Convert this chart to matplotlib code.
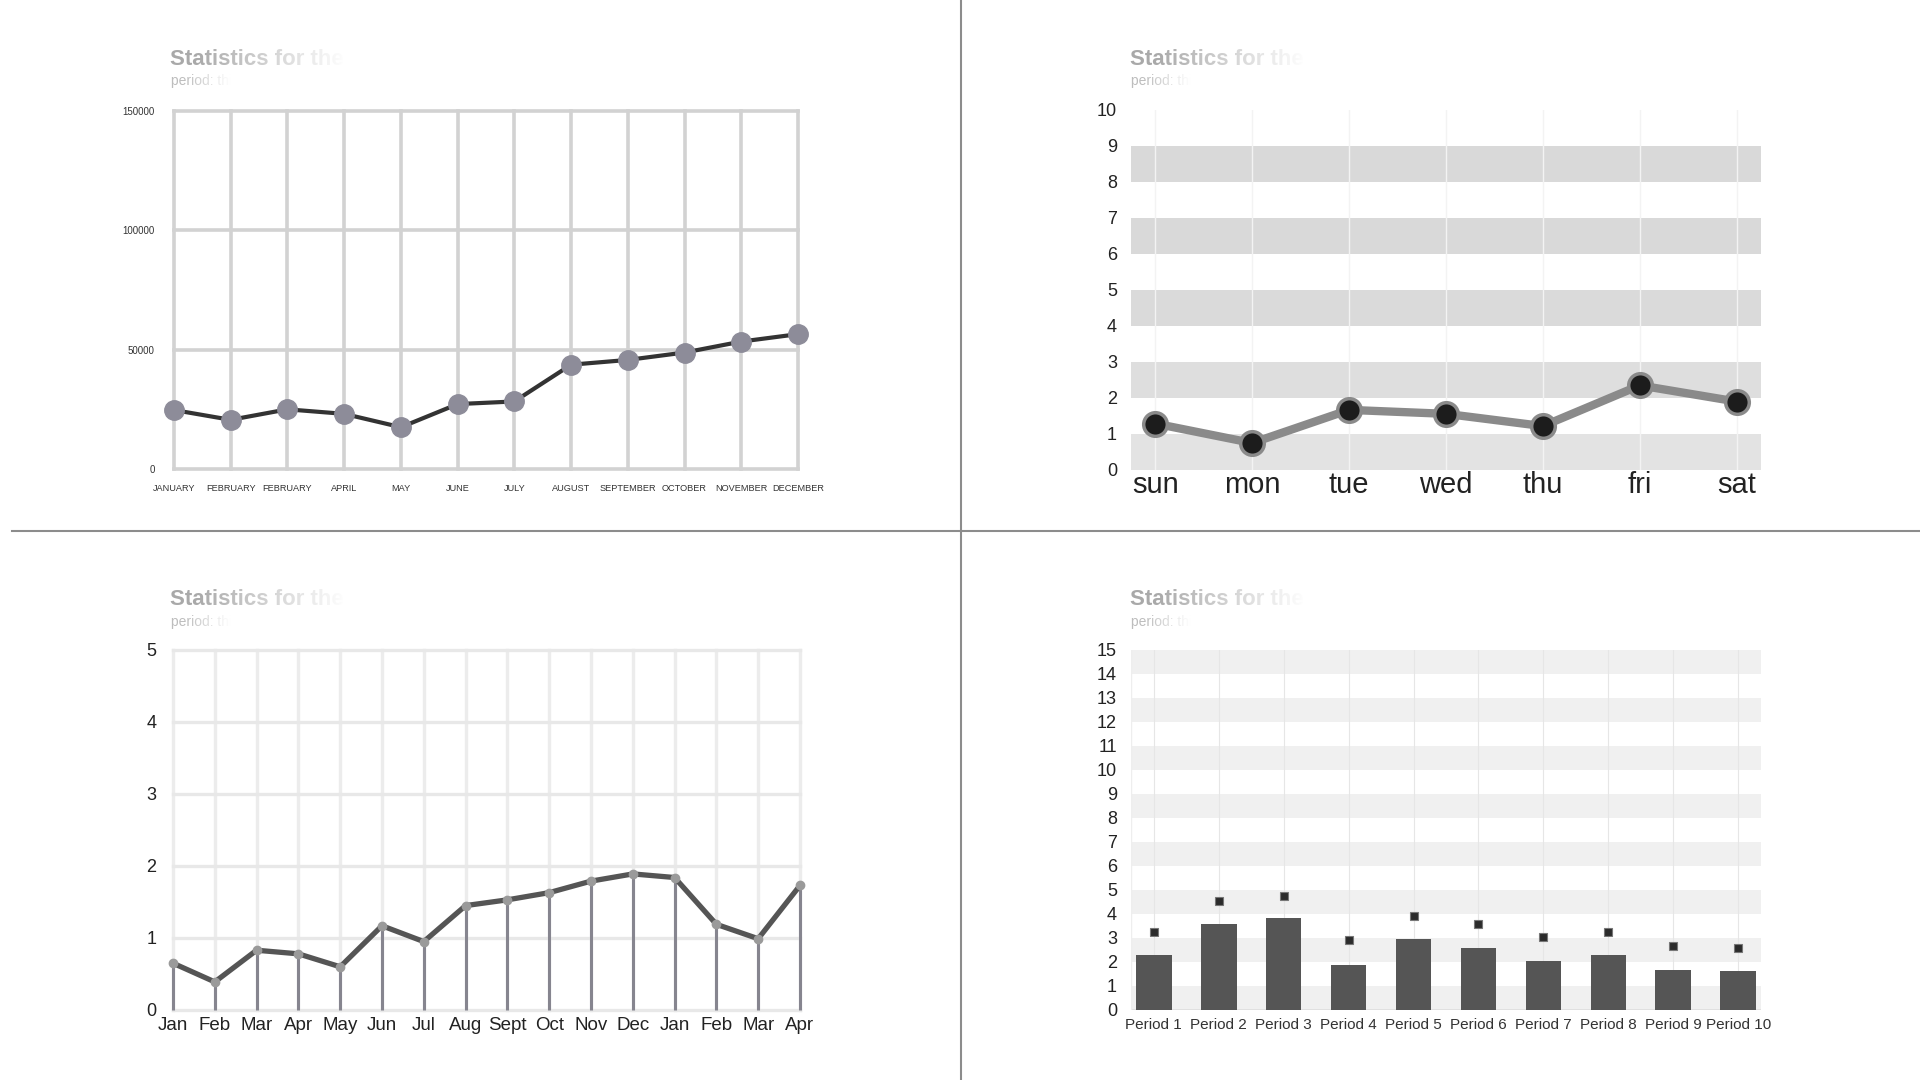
import numpy as np
import matplotlib
matplotlib.use("Agg")
import matplotlib.pyplot as plt
from matplotlib.lines import Line2D

plt.rcParams['font.family'] = ['Liberation Sans', 'DejaVu Sans']

# panneau 1 : mois / valeurs
mois1 = ["JANUARY", "FEBRUARY", "FEBRUARY", "APRIL", "MAY", "JUNE", "JULY",
         "AUGUST", "SEPTEMBER", "OCTOBER", "NOVEMBER", "DECEMBER"]
valeurs1 = [24700, 20600, 25000, 23100, 17500, 27200, 28300,
            43700, 45700, 48800, 53400, 56500]
yticks1 = [0, 50000, 100000, 150000]

# panneau 2 : jours
jours = ["sun", "mon", "tue", "wed", "thu", "fri", "sat"]
valeurs2 = [1.29, 0.75, 1.67, 1.56, 1.22, 2.35, 1.90]

# panneau 3 : mois courts
mois3 = ["Jan", "Feb", "Mar", "Apr", "May", "Jun", "Jul", "Aug", "Sept",
         "Oct", "Nov", "Dec", "Jan", "Feb", "Mar", "Apr"]
valeurs3 = [0.65, 0.39, 0.83, 0.78, 0.60, 1.17, 0.95, 1.45, 1.53,
            1.63, 1.79, 1.89, 1.84, 1.19, 0.99, 1.73]

# panneau 4 : periodes
periodes = ["Period %d" % i for i in range(1, 11)]
barres4 = [2.30, 3.57, 3.83, 1.89, 2.96, 2.60, 2.04, 2.30, 1.68, 1.63]
points4 = [3.27, 4.54, 4.74, 2.91, 3.93, 3.57, 3.06, 3.27, 2.65, 2.60]

W, H = 1920, 1080
fig = plt.figure(figsize=(19.2, 10.8), dpi=100)


def rect(x0, y0, x1, y1):
    return [x0 / W, 1 - y1 / H, (x1 - x0) / W, (y1 - y0) / H]


def fondu(x0, x1, y0, y1, debut, fin):
    # voile blanc de plus en plus opaque vers la droite
    ov = fig.add_axes(rect(x0, y0, x1, y1), zorder=10)
    grad = np.zeros((2, 300, 4))
    grad[..., :3] = 1.0
    xs = np.linspace(x0, x1, 300)
    grad[..., 3] = np.clip((xs - debut) / (fin - debut), 0, 1)
    ov.imshow(grad, aspect='auto', extent=[0, 1, 0, 1])
    ov.axis('off')


def titre(x, y, texte):
    fig.text(x / W, 1 - y / H, texte, fontsize=16, fontweight='bold',
             color='#a9a9a9', va='center', ha='left')
    fig.text((x + 1) / W, 1 - (y + 22) / H, "period: this year", fontsize=10,
             color='#bdbdbd', va='center', ha='left')
    fondu(x - 5, x + 420, y - 16, y + 12, x + 25, x + 175)
    fondu(x - 5, x + 420, y + 12, y + 34, x + 15, x + 60)


def sans_cadre(ax):
    for s in ax.spines.values():
        s.set_visible(False)
    ax.tick_params(length=0)


# ---- panneau 1
ax1 = fig.add_axes(rect(174, 111, 798, 469))
x1 = np.arange(len(mois1))
ax1.set_xlim(0, len(mois1) - 1)
ax1.set_ylim(0, 150000)
sans_cadre(ax1)
for xi in x1:
    ax1.axvline(xi, color='#d2d2d2', lw=2.6, clip_on=False, zorder=1)
for yv in yticks1:
    ax1.axhline(yv, color='#d2d2d2', lw=2.6, clip_on=False, zorder=1)
ax1.plot(x1, valeurs1, color='#333333', lw=3, marker='o', markersize=14,
         markerfacecolor='#8d8c99', markeredgecolor='#8d8c99', clip_on=False, zorder=3)
ax1.set_xticks(x1)
ax1.set_xticklabels(mois1, fontsize=6.6, color='#333333')
ax1.set_yticks(yticks1)
ax1.set_yticklabels([str(v) for v in yticks1], fontsize=7, color='#333333')
ax1.tick_params(axis='x', pad=11)
ax1.tick_params(axis='y', pad=14)
titre(170, 59, "Statistics for the period")

# ---- panneau 2
ax2 = fig.add_axes(rect(1131, 110, 1761, 470))
x2 = np.arange(len(jours))
ax2.set_xlim(-0.25, len(jours) - 0.75)
ax2.set_ylim(0, 10)
sans_cadre(ax2)
gris_bandes = ['#e3e3e3', '#dedede', '#dadada', '#d9d9d9', '#d9d9d9']
for k, b in enumerate(range(0, 10, 2)):
    ax2.axhspan(b, b + 1, color=gris_bandes[k], lw=0, zorder=0)
for xi in x2:
    ax2.axvline(xi, color='#f3f3f3', lw=1, zorder=0.5)
ax2.plot(x2, valeurs2, color='#8a8a8a', lw=6, marker='o', markersize=17,
         markerfacecolor='#1c1c1c', markeredgecolor='#8a8a8a', markeredgewidth=2.5,
         clip_on=False, zorder=3)
ax2.set_xticks(x2)
ax2.set_xticklabels(jours, fontsize=21, color='#222222')
ax2.set_yticks(range(0, 11))
ax2.tick_params(axis='y', labelsize=13, labelcolor='#222222', pad=10)
ax2.tick_params(axis='x', pad=1)
titre(1130, 59, "Statistics for the period")

# ---- panneau 3
ax3 = fig.add_axes(rect(173, 650, 800, 1010))
x3 = np.arange(len(mois3))
ax3.set_xlim(0, len(mois3) - 1)
ax3.set_ylim(0, 5)
sans_cadre(ax3)
for xi in x3:
    ax3.axvline(xi, color='#ececec', lw=2.4, clip_on=False, zorder=0.5)
for yv in range(0, 6):
    ax3.axhline(yv, color='#e8e8e8', lw=2.4, clip_on=False, zorder=0.5)
ax3.vlines(x3, 0, valeurs3, color='#86858f', lw=2.2, zorder=2, clip_on=False)
ax3.plot(x3, valeurs3, color='#555555', lw=3.8, marker='o', markersize=6,
         markerfacecolor='#9a9a9a', markeredgecolor='#9a9a9a', clip_on=False, zorder=3)
ax3.set_xticks(x3)
ax3.set_xticklabels(mois3, fontsize=13.5, color='#222222')
ax3.set_yticks(range(0, 6))
ax3.tick_params(axis='y', labelsize=13, labelcolor='#222222', pad=12)
ax3.tick_params(axis='x', pad=5)
titre(170, 600, "Statistics for the period")

# ---- panneau 4
ax4 = fig.add_axes(rect(1131, 650, 1761, 1010))
x4 = np.arange(len(periodes))
ax4.set_xlim(-0.35, len(periodes) - 0.65)
ax4.set_ylim(0, 15)
sans_cadre(ax4)
for b in range(0, 15, 2):
    ax4.axhspan(b, b + 1, color='#f0f0f0', lw=0, zorder=0)
for xi in x4:
    ax4.axvline(xi, color='#e6e6e6', lw=0.8, zorder=0.5)
ax4.axhline(0, color='#dddddd', lw=1.2, zorder=0.6)
ax4.axvline(-0.35, color='#eeeeee', lw=1.0, zorder=0.6)
ax4.bar(x4, barres4, width=0.55, color='#555555', zorder=2)
ax4.plot(x4, points4, ls='none', marker='s', markersize=6, markerfacecolor='#2b2b2b',
         markeredgecolor='#777777', markeredgewidth=0.8, zorder=3)
ax4.set_xticks(x4)
ax4.set_xticklabels(periodes, fontsize=11, color='#333333')
ax4.set_yticks(range(0, 16))
ax4.tick_params(axis='y', labelsize=13, labelcolor='#222222', pad=10)
ax4.tick_params(axis='x', pad=6)
titre(1130, 600, "Statistics for the period")

# separateurs
fig.add_artist(Line2D([961 / W, 961 / W], [0, 1], color='#8c8c8c', lw=1.5))
fig.add_artist(Line2D([12 / W, 1], [1 - 531 / H, 1 - 531 / H], color='#8c8c8c', lw=1.5))

fig.savefig("out.png", dpi=100, facecolor='white')
